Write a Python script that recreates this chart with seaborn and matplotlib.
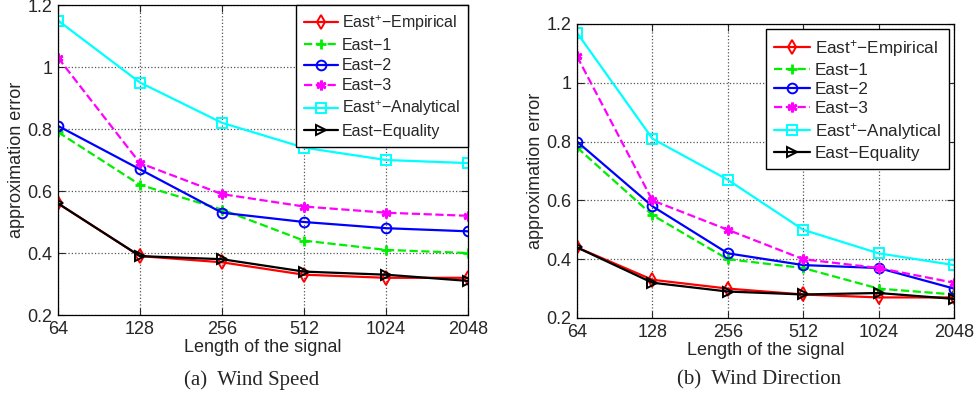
import seaborn as sns
import matplotlib
matplotlib.use('Agg')
import matplotlib.pyplot as plt
import numpy as np
import pandas as pd

# signal lengths on the x axis
lengths = [64, 128, 256, 512, 1024, 2048]
y_ticks = [0.2, 0.4, 0.6, 0.8, 1.0, 1.2]
y_tick_labels = ['0.2', '0.4', '0.6', '0.8', '1', '1.2']

series_names = ['East$^{+}$\u2212Empirical', 'East\u22121', 'East\u22122', 'East\u22123',
                'East$^{+}$\u2212Analytical', 'East\u2212Equality']

# (a) wind speed
speed_empirical = [0.56, 0.39, 0.37, 0.33, 0.32, 0.32]
speed_east1 = [0.79, 0.62, 0.54, 0.44, 0.41, 0.40]
speed_east2 = [0.81, 0.67, 0.53, 0.50, 0.48, 0.47]
speed_east3 = [1.03, 0.69, 0.59, 0.55, 0.53, 0.52]
speed_analytical = [1.15, 0.95, 0.82, 0.74, 0.70, 0.69]
speed_equality = [0.56, 0.39, 0.38, 0.34, 0.33, 0.31]

# (b) wind direction
dir_empirical = [0.44, 0.33, 0.30, 0.28, 0.27, 0.27]
dir_east1 = [0.78, 0.55, 0.40, 0.37, 0.30, 0.28]
dir_east2 = [0.80, 0.58, 0.42, 0.38, 0.37, 0.30]
dir_east3 = [1.09, 0.60, 0.50, 0.40, 0.37, 0.32]
dir_analytical = [1.17, 0.81, 0.67, 0.50, 0.42, 0.38]
dir_equality = [0.44, 0.32, 0.29, 0.28, 0.285, 0.265]

# line styles: colour, marker, linestyle
ASTERISK = (6, 2, 0)
styles = [('#ff0000', 'd', '-'), ('#00ee00', '+', '--'), ('#0000ff', 'o', '-'),
          ('#ff00ff', ASTERISK, '--'), ('#00ffff', 's', '-'), ('#000000', '>', '-')]


def make_frame(values):
    rows = []
    for name, vals in zip(series_names, values):
        for x, y in zip(lengths, vals):
            rows.append({'length': x, 'error': y, 'series': name})
    return pd.DataFrame(rows)


def draw_panel(ax, df, legend_anchor, leg_size, leg_spacing):
    for name, (col, mk, ls) in zip(series_names, styles):
        sub = df[df['series'] == name]
        filled = mk in ('+', ASTERISK)
        sns.lineplot(data=sub, x='length', y='error', ax=ax, color=col, marker=mk,
                     linestyle=ls, linewidth=1.6, markersize=7,
                     markerfacecolor=col if filled else 'none',
                     markeredgecolor=col, markeredgewidth=2.0 if filled else 1.4,
                     label=name)
    ax.set_xscale('log', base=2)
    ax.set_xlim(64, 2048)
    ax.set_ylim(0.2, 1.2)
    ax.set_xticks(lengths)
    ax.set_xticklabels([str(v) for v in lengths])
    ax.minorticks_off()
    ax.set_yticks(y_ticks)
    ax.set_yticklabels(y_tick_labels)
    ax.tick_params(direction='in', length=5, width=0.8, labelsize=13, top=True, right=True, pad=4)
    ax.grid(True, linestyle=':', color='#555555', linewidth=0.9)
    for s in ax.spines.values():
        s.set_color('black')
        s.set_linewidth(0.9)
    ax.set_xlabel('Length of the signal', fontsize=13, labelpad=1)
    ax.set_ylabel('approximation error', fontsize=13, labelpad=2)
    leg = ax.legend(loc='upper right', bbox_to_anchor=legend_anchor, fontsize=leg_size,
                    frameon=True, fancybox=False, framealpha=1, edgecolor='black',
                    handlelength=2.1, labelspacing=leg_spacing, borderpad=0.5,
                    handletextpad=0.25, borderaxespad=0)
    leg.get_frame().set_linewidth(1.0)


sns.set_style('ticks')
plt.rcParams['font.family'] = ['Liberation Sans', 'DejaVu Sans']
plt.rcParams['mathtext.fontset'] = 'custom'
plt.rcParams['mathtext.rm'] = 'Liberation Sans'
plt.rcParams['mathtext.it'] = 'Liberation Sans'

fig = plt.figure(figsize=(9.76, 4.0), dpi=100)
ax1 = fig.add_axes([0.0594, 0.2125, 0.420, 0.775])
ax2 = fig.add_axes([0.5912, 0.205, 0.3863, 0.735])

draw_panel(ax1, make_frame([speed_empirical, speed_east1, speed_east2, speed_east3,
                            speed_analytical, speed_equality]), (1.0, 1.0), 11.5, 0.33)
draw_panel(ax2, make_frame([dir_empirical, dir_east1, dir_east2, dir_east3,
                            dir_analytical, dir_equality]), (0.987, 0.983), 12.3, 0.25)

fig.text(252 / 976, 1 - 380 / 400, '(a)  Wind Speed', ha='center', va='center',
         fontsize=15, family=['Liberation Serif', 'DejaVu Serif'])
fig.text(759 / 976, 1 - 380 / 400, '(b)  Wind Direction', ha='center', va='center',
         fontsize=15, family=['Liberation Serif', 'DejaVu Serif'])

fig.savefig('out.png', dpi=100)
plt.close()
